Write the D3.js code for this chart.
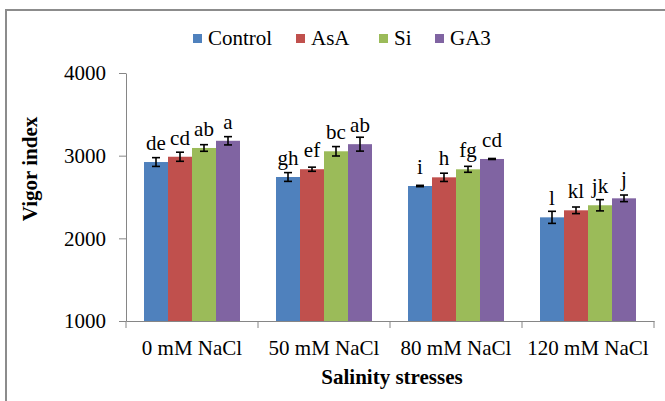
<!DOCTYPE html>
<html>
<head>
<meta charset="utf-8">
<script src="https://cdn.jsdelivr.net/npm/d3@7"></script>
<style>
  body { margin: 0; background: #fff; }
  svg { display: block; }
</style>
</head>
<body>
<svg id="chart" width="665" height="401"></svg>
<script>
var categories = ['0 mM NaCl', '50 mM NaCl', '80 mM NaCl', '120 mM NaCl'];
var seriesNames = ['Control', 'AsA', 'Si', 'GA3'];
var colors = ['#4F81BD', '#C0504D', '#9BBB59', '#8064A2'];

var control = [2923, 2742, 2633, 2254];
var asa = [2987, 2836, 2738, 2339];
var si = [3093, 3053, 2835, 2400];
var ga3 = [3180, 3139, 2960, 2484];

var controlErr = [53, 53, 8, 73];
var asaErr = [55, 25, 50, 40];
var siErr = [40, 57, 36, 68];
var ga3Err = [50, 84, 6, 40];

var controlLet = ['de', 'gh', 'i', 'l'];
var asaLet = ['cd', 'ef', 'h', 'kl'];
var siLet = ['ab', 'bc', 'fg', 'jk'];
var ga3Let = ['a', 'ab', 'cd', 'j'];

var yTicks = [1000, 2000, 3000, 4000];

var values = [control, asa, si, ga3];
var errs = [controlErr, asaErr, siErr, ga3Err];
var lets = [controlLet, asaLet, siLet, ga3Let];

var FONT = "'Liberation Serif', Tinos, 'Times New Roman', Times, 'DejaVu Serif', 'Noto Serif', serif";
var svg = d3.select('#chart');

// outer frame
svg.append('rect')
  .attr('x', 6).attr('y', 10)
  .attr('width', 700).attr('height', 420)
  .attr('fill', 'none')
  .attr('stroke', '#8c8c8c')
  .attr('stroke-width', 2);

var pLeft = 126, pRight = 654, pTop = 73, pBottom = 321;

var x0 = d3.scaleBand().domain(categories).range([pLeft, pRight]).padding(0);
var x1 = d3.scaleBand().domain(seriesNames).range([0, x0.bandwidth()])
  .paddingInner(0).paddingOuter(0.75);
var y = d3.scaleLinear().domain([1000, 4000]).range([pBottom, pTop]);

// data rows
var rows = [];
categories.forEach(function (c, i) {
  seriesNames.forEach(function (s, j) {
    rows.push({ cat: c, ser: s, v: values[j][i], e: errs[j][i], l: lets[j][i], col: colors[j] });
  });
});

var g = svg.append('g');

g.selectAll('rect.bar').data(rows).enter().append('rect')
  .attr('class', 'bar')
  .attr('x', function (d) { return x0(d.cat) + x1(d.ser); })
  .attr('y', function (d) { return y(d.v); })
  .attr('width', x1.bandwidth())
  .attr('height', function (d) { return y(1000) - y(d.v); })
  .attr('fill', function (d) { return d.col; });

// error bars
function cx(d) { return x0(d.cat) + x1(d.ser) + x1.bandwidth() / 2; }
var eb = g.selectAll('g.err').data(rows).enter().append('g')
  .attr('class', 'err')
  .attr('stroke', '#000')
  .attr('stroke-width', 1.6);
eb.append('line')
  .attr('x1', cx).attr('x2', cx)
  .attr('y1', function (d) { return y(d.v + d.e); })
  .attr('y2', function (d) { return y(d.v - d.e); });
eb.append('line')
  .attr('x1', function (d) { return cx(d) - 4; }).attr('x2', function (d) { return cx(d) + 4; })
  .attr('y1', function (d) { return y(d.v + d.e); })
  .attr('y2', function (d) { return y(d.v + d.e); });
eb.append('line')
  .attr('x1', function (d) { return cx(d) - 4; }).attr('x2', function (d) { return cx(d) + 4; })
  .attr('y1', function (d) { return y(d.v - d.e); })
  .attr('y2', function (d) { return y(d.v - d.e); });

// letters
g.selectAll('text.lbl').data(rows).enter().append('text')
  .attr('class', 'lbl')
  .attr('x', cx)
  .attr('y', function (d) { return y(d.v) - 12; })
  .attr('text-anchor', 'middle')
  .style('font-family', FONT)
  .style('font-size', '21px')
  .attr('fill', '#000')
  .text(function (d) { return d.l; });

// y axis
var yAxis = svg.append('g')
  .attr('transform', 'translate(' + pLeft + ',0)')
  .call(d3.axisLeft(y).tickValues(yTicks).tickFormat(d3.format('d')).tickSize(7).tickPadding(13).tickSizeOuter(0));
yAxis.select('.domain').attr('stroke', '#868686');
yAxis.selectAll('.tick line').attr('stroke', '#868686');
yAxis.selectAll('.tick text')
  .style('font-family', FONT).style('font-size', '21px')
  .attr('fill', '#000');

// x axis
var xAxis = svg.append('g')
  .attr('transform', 'translate(0,' + pBottom + ')')
  .call(d3.axisBottom(x0).tickSize(0).tickSizeOuter(0));
xAxis.select('.domain').attr('stroke', '#868686');
xAxis.selectAll('.tick text')
  .attr('y', 34).attr('dy', 0)
  .style('font-family', FONT).style('font-size', '21px')
  .attr('fill', '#000');

var bounds = categories.map(function (c) { return x0(c); }).concat([pRight]);
xAxis.selectAll('line.sep').data(bounds).enter().append('line')
  .attr('class', 'sep')
  .attr('x1', function (d) { return d; }).attr('x2', function (d) { return d; })
  .attr('y1', 0).attr('y2', 7)
  .attr('stroke', '#868686');

// axis titles
svg.append('text')
  .attr('transform', 'translate(37,' + ((pTop + pBottom) / 2 - 28) + ') rotate(-90)')
  .attr('text-anchor', 'middle')
  .style('font-family', FONT).style('font-size', '21px')
  .style('font-weight', 'bold')
  .text('Vigor index');

svg.append('text')
  .attr('x', 392).attr('y', 384)
  .attr('text-anchor', 'middle')
  .style('font-family', FONT).style('font-size', '21px')
  .style('font-weight', 'bold')
  .text('Salinity stresses');

// legend
var legendX = [193, 296, 379, 435];
var leg = svg.selectAll('g.leg').data(seriesNames).enter().append('g')
  .attr('class', 'leg')
  .attr('transform', function (d, i) { return 'translate(' + legendX[i] + ',0)'; });
leg.append('rect')
  .attr('x', 0).attr('y', 34).attr('width', 9).attr('height', 9)
  .attr('fill', function (d, i) { return colors[i]; });
leg.append('text')
  .attr('x', 15).attr('y', 45)
  .style('font-family', FONT).style('font-size', '21px')
  .text(function (d) { return d; });
</script>
</body>
</html>
